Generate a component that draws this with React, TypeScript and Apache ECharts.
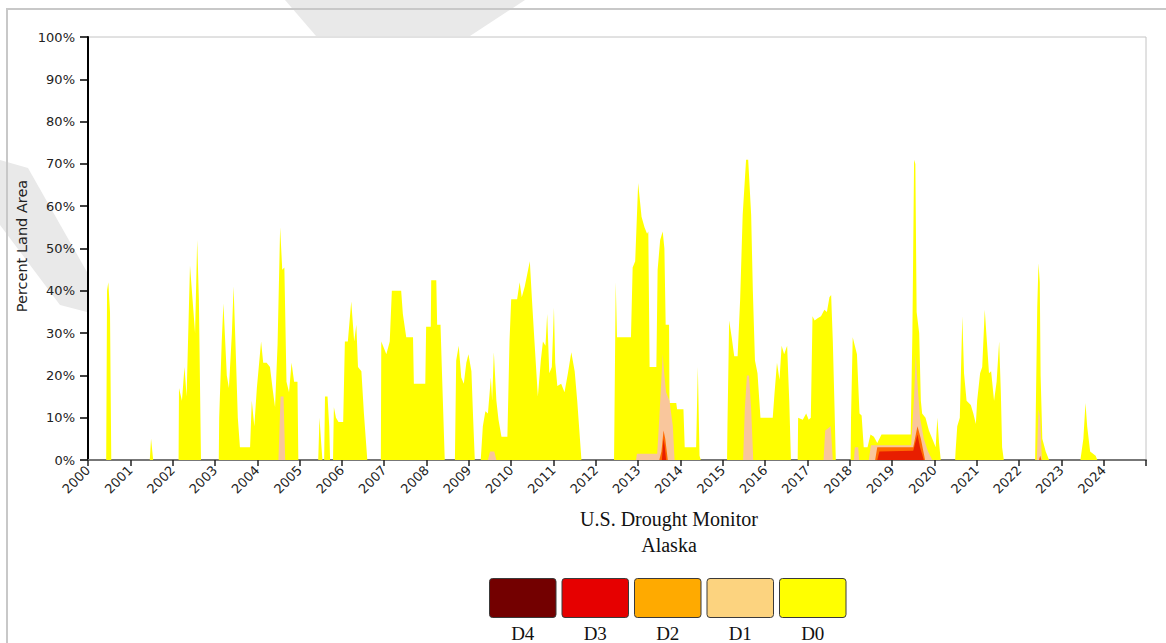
import React, { useEffect, useRef } from "react";
import * as echarts from "echarts";

// ---- data (decimal year, percent of land area; cumulative category shares) ----
const yearTicks: number[] = [2000, 2001, 2002, 2003, 2004, 2005, 2006, 2007, 2008, 2009, 2010, 2011, 2012, 2013, 2014, 2015, 2016, 2017, 2018, 2019, 2020, 2021, 2022, 2023, 2024];

const d0: [number, number][] = [
  [2000.0, 0], [2000.43, 0], [2000.45, 40], [2000.48, 42], [2000.52, 35], [2000.55, 0],
  [2001.46, 0], [2001.49, 5], [2001.54, 0],
  [2002.14, 0], [2002.15, 17], [2002.22, 14], [2002.28, 22], [2002.33, 15], [2002.41, 46], [2002.47, 38], [2002.53, 30], [2002.58, 52], [2002.62, 38], [2002.67, 0],
  [2003.09, 0], [2003.1, 10], [2003.16, 28], [2003.2, 37], [2003.28, 20], [2003.33, 17], [2003.4, 30], [2003.44, 41], [2003.49, 26], [2003.54, 10], [2003.59, 3], [2003.83, 3], [2003.87, 14], [2003.93, 8], [2003.99, 17], [2004.09, 28], [2004.14, 23], [2004.22, 23], [2004.3, 22], [2004.36, 17], [2004.42, 12.5], [2004.48, 27.5], [2004.54, 55], [2004.59, 45], [2004.64, 45.5], [2004.69, 18.5], [2004.75, 16], [2004.81, 23], [2004.87, 18.5], [2004.95, 18.5], [2004.97, 0],
  [2005.44, 0], [2005.47, 10], [2005.51, 4], [2005.54, 0],
  [2005.58, 0], [2005.6, 15], [2005.66, 15], [2005.7, 8], [2005.72, 0],
  [2005.79, 0], [2005.81, 12.5], [2005.86, 10], [2005.92, 9], [2006.03, 9], [2006.07, 28], [2006.14, 28], [2006.22, 37.5], [2006.29, 28], [2006.34, 32], [2006.38, 22], [2006.46, 21], [2006.52, 11], [2006.6, 0],
  [2006.92, 0], [2006.93, 28], [2007.05, 25], [2007.13, 28], [2007.18, 40], [2007.4, 40], [2007.44, 34.5], [2007.52, 29], [2007.68, 29], [2007.7, 18], [2007.97, 18], [2007.99, 31.5], [2008.1, 31.5], [2008.11, 42.5], [2008.23, 42.5], [2008.25, 32], [2008.33, 32], [2008.36, 22], [2008.43, 0],
  [2008.67, 0], [2008.7, 23.5], [2008.76, 27], [2008.82, 19.5], [2008.88, 18], [2008.94, 23], [2008.99, 25], [2009.06, 21], [2009.1, 10], [2009.14, 0],
  [2009.28, 0], [2009.33, 8], [2009.39, 11.5], [2009.45, 11], [2009.52, 19.5], [2009.55, 14], [2009.59, 25.5], [2009.65, 14], [2009.7, 9.5], [2009.77, 5.5], [2009.91, 5.5], [2009.96, 28], [2010.0, 38], [2010.14, 38], [2010.2, 42], [2010.25, 38.5], [2010.32, 41], [2010.44, 47], [2010.49, 38], [2010.55, 28], [2010.63, 15], [2010.7, 23.5], [2010.75, 28], [2010.81, 27], [2010.85, 34.5], [2010.9, 20.5], [2010.96, 22], [2011.01, 36], [2011.04, 23], [2011.09, 17.5], [2011.18, 18], [2011.26, 16], [2011.34, 20.5], [2011.42, 25.5], [2011.5, 21], [2011.56, 14], [2011.66, 0],
  [2012.43, 0], [2012.44, 10], [2012.47, 42], [2012.5, 29], [2012.83, 29], [2012.87, 45.5], [2012.93, 47], [2013.0, 65.5], [2013.08, 57.5], [2013.15, 55], [2013.21, 53.5], [2013.24, 54], [2013.27, 22], [2013.43, 22], [2013.46, 45], [2013.52, 52], [2013.58, 54], [2013.62, 50], [2013.65, 32], [2013.73, 32], [2013.74, 13.5], [2013.9, 13.5], [2013.92, 12], [2014.07, 12], [2014.1, 3], [2014.37, 3], [2014.41, 22], [2014.45, 1], [2014.48, 0],
  [2015.1, 0], [2015.11, 8], [2015.15, 33], [2015.21, 29], [2015.27, 24.5], [2015.35, 24.5], [2015.41, 38], [2015.47, 58], [2015.55, 71], [2015.6, 71], [2015.67, 58], [2015.71, 40], [2015.76, 23.5], [2015.82, 20.5], [2015.89, 10], [2016.18, 10], [2016.22, 15.5], [2016.28, 23], [2016.34, 19], [2016.39, 27], [2016.45, 25], [2016.52, 27], [2016.57, 14], [2016.61, 0],
  [2016.77, 0], [2016.78, 10], [2016.89, 9.5], [2016.97, 11], [2017.03, 9.5], [2017.08, 10], [2017.12, 34], [2017.17, 33], [2017.24, 33.5], [2017.32, 34], [2017.4, 35.5], [2017.46, 35], [2017.52, 38.5], [2017.56, 39], [2017.6, 28], [2017.64, 12.5], [2017.67, 0],
  [2018.02, 0], [2018.03, 10], [2018.07, 29], [2018.12, 27], [2018.17, 25], [2018.23, 11], [2018.28, 10.5], [2018.33, 3], [2018.42, 3], [2018.49, 6], [2018.57, 5.5], [2018.65, 4], [2018.75, 6], [2019.44, 6], [2019.48, 30], [2019.52, 71], [2019.55, 70], [2019.58, 35], [2019.64, 30], [2019.68, 14], [2019.71, 11], [2019.79, 10], [2019.87, 7], [2019.95, 5], [2020.03, 3], [2020.07, 10], [2020.11, 4], [2020.15, 0],
  [2020.49, 0], [2020.5, 2], [2020.54, 8], [2020.6, 10], [2020.66, 34], [2020.7, 20.5], [2020.76, 14], [2020.86, 13], [2020.92, 11], [2020.98, 8.5], [2021.01, 14], [2021.08, 20.5], [2021.13, 22], [2021.19, 35.5], [2021.24, 28], [2021.29, 20.5], [2021.34, 21], [2021.41, 14], [2021.47, 18.5], [2021.53, 28], [2021.57, 16], [2021.6, 3], [2021.64, 0],
  [2022.38, 0], [2022.43, 36], [2022.46, 46.5], [2022.49, 42], [2022.51, 20], [2022.55, 5], [2022.63, 2], [2022.71, 0],
  [2023.45, 0], [2023.52, 5], [2023.57, 13.5], [2023.61, 8], [2023.68, 2], [2023.81, 1], [2023.85, 0],
  [2025.0, 0],
];

const d1: [number, number][] = [
  [2000.0, 0], [2004.5, 0], [2004.55, 15], [2004.62, 15], [2004.66, 0],
  [2009.45, 0], [2009.5, 2], [2009.6, 2], [2009.65, 0],
  [2012.95, 0], [2012.97, 1.5], [2013.45, 1.5], [2013.5, 10], [2013.58, 25], [2013.62, 20], [2013.66, 16], [2013.74, 14], [2013.82, 8], [2013.86, 0],
  [2015.48, 0], [2015.52, 12], [2015.57, 20], [2015.62, 20], [2015.67, 12], [2015.72, 0],
  [2017.38, 0], [2017.42, 7], [2017.55, 8], [2017.6, 0],
  [2018.1, 0], [2018.12, 3], [2018.2, 3], [2018.22, 0],
  [2018.45, 0], [2018.5, 3.5], [2019.45, 3.5], [2019.52, 15], [2019.56, 25], [2019.6, 18], [2019.66, 10], [2019.75, 5], [2019.85, 2], [2019.95, 0],
  [2022.42, 0], [2022.46, 12], [2022.5, 10], [2022.54, 0],
  [2025.0, 0],
];

const d2: [number, number][] = [
  [2000.0, 0], [2013.5, 0], [2013.55, 2], [2013.6, 7], [2013.64, 5], [2013.7, 0],
  [2018.6, 0], [2018.65, 3], [2019.5, 3], [2019.6, 8], [2019.68, 5], [2019.78, 0],
  [2022.47, 0], [2022.5, 1], [2022.53, 0],
  [2025.0, 0],
];

const d3: [number, number][] = [
  [2000.0, 0], [2013.56, 0], [2013.6, 5], [2013.63, 3], [2013.66, 0],
  [2018.65, 0], [2018.7, 2], [2019.5, 2.2], [2019.6, 6], [2019.66, 3], [2019.75, 0],
  [2025.0, 0],
];

const d4: [number, number][] = [
  [2000.0, 0], [2025.0, 0],
];

const legendLabels: string[] = ["D4", "D3", "D2", "D1", "D0"];
const legendColors: string[] = ["#730000", "#E60000", "#FFAA00", "#FCD37F", "#FFFF00"];
const areaColors: string[] = ["#730000", "#E81E00", "#FF6A00", "#F9C69C", "#FFFF00"];

const titleLines: string[] = ["U.S. Drought Monitor", "Alaska"];
const yAxisTitle = "Percent Land Area";

export default function App() {
  const ref = useRef<HTMLDivElement>(null);

  useEffect(() => {
    document.body.style.margin = "0";
    if (!ref.current) return;
    const chart = echarts.init(ref.current, undefined, { renderer: "svg" });

    const seriesData = [d4, d3, d2, d1, d0];
    const order = [4, 3, 2, 1, 0];
    const series = order.map((i) => ({
      type: "line",
      name: legendLabels[i],
      data: seriesData[i],
      showSymbol: false,
      symbol: "none",
      lineStyle: { width: 0 },
      areaStyle: { color: areaColors[i], opacity: 1 },
      itemStyle: { color: areaColors[i] },
      z: 2 + (4 - i),
      silent: true,
    }));

    const legendX0 = 489.5;
    const legendStep = 72.5;
    const serif = '"Liberation Serif", "Times New Roman", serif';
    const legendGraphics: any[] = [];
    legendLabels.forEach((lab, i) => {
      legendGraphics.push({
        type: "rect",
        shape: { x: legendX0 + i * legendStep, y: 578.5, width: 66.5, height: 39, r: 3 },
        style: { fill: legendColors[i], stroke: "#3a3a3a", lineWidth: 1 },
      });
      legendGraphics.push({
        type: "text",
        x: legendX0 + i * legendStep + 33.25,
        y: 643,
        style: {
          text: lab,
          font: "19px " + serif,
          fill: "#111",
          align: "center",
          verticalAlign: "bottom",
        },
      });
    });

    chart.setOption({
      animation: false,
      backgroundColor: "#fff",
      grid: {
        left: 88,
        right: 20,
        top: 37,
        bottom: 183,
        show: true,
        borderColor: "#c4c4c4",
        borderWidth: 1,
        backgroundColor: "transparent",
      },
      xAxis: {
        type: "value",
        min: 2000,
        max: 2025,
        interval: 1,
        splitLine: { show: false },
        axisLine: { show: true, lineStyle: { color: "#777", width: 2 } },
        axisTick: { show: true, length: 6, lineStyle: { color: "#222", width: 1.5 } },
        axisLabel: {
          rotate: 45,
          margin: 8,
          color: "#222",
          fontSize: 13,
          fontFamily: '"DejaVu Sans", sans-serif',
          formatter: (v: number) => (yearTicks.includes(v) ? String(v) : ""),
        },
      },
      yAxis: {
        type: "value",
        min: 0,
        max: 100,
        interval: 10,
        splitLine: { show: false },
        axisLine: { show: true, lineStyle: { color: "#000", width: 2 } },
        axisTick: { show: true, length: 8, lineStyle: { color: "#000", width: 1.5 } },
        axisLabel: {
          margin: 13,
          color: "#222",
          fontSize: 13,
          fontFamily: '"DejaVu Sans", sans-serif',
          formatter: "{value}%",
        },
      },
      graphic: [
        // faint watermark pieces visible in the margins
        {
          type: "polygon",
          shape: { points: [[285, 0], [525, 0], [470, 36], [316, 36]] },
          style: { fill: "#e9e9e9" },
          z: -10,
        },
        {
          type: "polygon",
          shape: { points: [[0, 160], [28, 168], [87, 272], [87, 312], [60, 305], [0, 225]] },
          style: { fill: "#e9e9e9" },
          z: -10,
        },
        {
          type: "line",
          shape: { x1: 7, y1: 9, x2: 7, y2: 643 },
          style: { stroke: "#c8c8c8", lineWidth: 2 },
        },
        {
          type: "line",
          shape: { x1: 6, y1: 9, x2: 1166, y2: 9 },
          style: { stroke: "#c8c8c8", lineWidth: 2 },
        },
        {
          type: "text",
          x: 22,
          y: 246,
          rotation: Math.PI / 2,
          style: {
            text: yAxisTitle,
            font: '14.5px "DejaVu Sans", sans-serif',
            fill: "#222",
            align: "center",
            verticalAlign: "middle",
          },
        },
        {
          type: "text",
          x: 669,
          y: 519,
          style: {
            text: titleLines[0],
            font: "20px " + serif,
            fill: "#111",
            align: "center",
            verticalAlign: "middle",
          },
        },
        {
          type: "text",
          x: 669,
          y: 545,
          style: {
            text: titleLines[1],
            font: "20px " + serif,
            fill: "#111",
            align: "center",
            verticalAlign: "middle",
          },
        },
        ...legendGraphics,
      ],
      series,
    });

    return () => chart.dispose();
  }, []);

  return <div ref={ref} style={{ width: 1166, height: 643 }} />;
}
